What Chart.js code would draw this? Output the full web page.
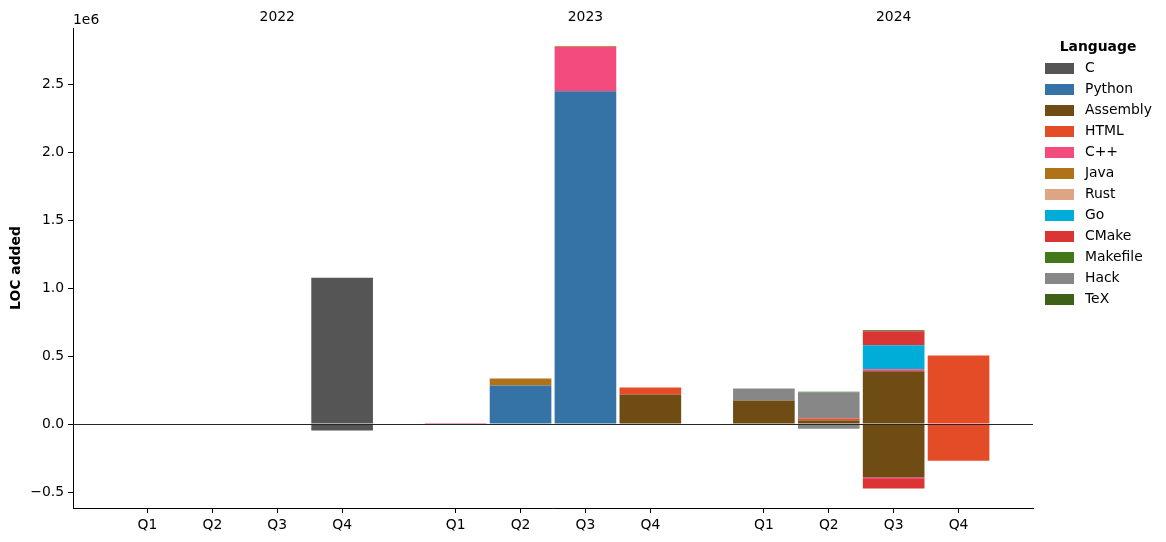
<!DOCTYPE html>
<html><head><meta charset="utf-8">
<script src="https://cdn.jsdelivr.net/npm/chart.js@4"></script>
<style>html,body{margin:0;padding:0;background:#fff}</style>
</head><body>
<canvas id="c" width="1166" height="542"></canvas>
<script>
// ---- data ----
const years = ['2022', '2023', '2024'];
const quarterLabels = ['Q1','Q2','Q3','Q4','Q1','Q2','Q3','Q4','Q1','Q2','Q3','Q4'];
const xPositions = [0, 1, 2, 3, 4.75, 5.75, 6.75, 7.75, 9.5, 10.5, 11.5, 12.5];
const yTicks = [-500000, 0, 500000, 1000000, 1500000, 2000000, 2500000];
const languages = ['C','Python','Assembly','HTML','C++','Java','Rust','Go','CMake','Makefile','Hack','TeX'];
const languageColors = ['#555555','#3572A5','#6E4C13','#E34C26','#F34B7D','#B07219','#DEA584','#00ADD8','#DA3434','#427819','#878787','#3D6117'];

//                 2022 Q1..Q4            2023 Q1..Q4                    2024 Q1..Q4
const C_pos        = [0, 0, 0, 1076000,   0, 0, 0, 0,                    0, 0, 0, 0];
const C_neg        = [0, 0, 0, -47000,    0, 0, 0, 0,                    0, 0, 0, 0];
const Python_pos   = [0, 0, 0, 0,         0, 283000, 2446000, 0,         0, 0, 0, 0];
const Python_neg   = [0, 0, 0, 0,         0, 0, 0, 0,                    0, 0, 0, 0];
const Assembly_pos = [0, 0, 0, 0,         0, 0, 0, 217000,               173000, 26000, 388000, 0];
const Assembly_neg = [0, 0, 0, 0,         0, 0, 0, 0,                    0, 0, -394000, 0];
const HTML_pos     = [0, 0, 0, 0,         0, 0, 0, 51000,                0, 15000, 0, 504000];
const HTML_neg     = [0, 0, 0, 0,         0, 0, 0, 0,                    0, 0, 0, -270000];
const Cpp_pos      = [0, 0, 0, 0,         8000, 0, 326000, 0,            0, 0, 15000, 0];
const Cpp_neg      = [0, 0, 0, 0,         0, 0, 0, 0,                    0, 0, -10000, 0];
const Java_pos     = [0, 0, 0, 0,         0, 52000, 5000, 0,             0, 0, 0, 0];
const Java_neg     = [0, 0, 0, 0,         0, 0, 0, 0,                    0, 0, 0, 0];
const Rust_pos     = [0, 0, 0, 0,         0, 0, 0, 0,                    0, 0, 0, 0];
const Rust_neg     = [0, 0, 0, 0,         0, 0, 0, 0,                    0, 0, 0, 0];
const Go_pos       = [0, 0, 0, 0,         0, 0, 0, 0,                    0, 0, 176000, 0];
const Go_neg       = [0, 0, 0, 0,         0, 0, 0, 0,                    0, 0, 0, 0];
const CMake_pos    = [0, 0, 0, 0,         0, 0, 0, 0,                    0, 0, 103000, 0];
const CMake_neg    = [0, 0, 0, 0,         0, 0, 0, 0,                    0, 0, -70000, 0];
const Makefile_pos = [0, 0, 0, 0,         0, 0, 0, 0,                    0, 0, 0, 0];
const Makefile_neg = [0, 0, 0, 0,         0, 0, 0, 0,                    0, 0, 0, 0];
const Hack_pos     = [0, 0, 0, 0,         0, 0, 0, 0,                    88000, 190000, 0, 0];
const Hack_neg     = [0, 0, 0, 0,         0, 0, 0, 0,                    0, -35000, 0, 0];
const TeX_pos      = [0, 0, 0, 0,         0, 0, 0, 0,                    0, 7000, 7000, 0];
const TeX_neg      = [0, 0, 0, 0,         0, 0, 0, 0,                    0, 0, 0, 0];

const seriesPos = [C_pos, Python_pos, Assembly_pos, HTML_pos, Cpp_pos, Java_pos, Rust_pos, Go_pos, CMake_pos, Makefile_pos, Hack_pos, TeX_pos];
const seriesNeg = [C_neg, Python_neg, Assembly_neg, HTML_neg, Cpp_neg, Java_neg, Rust_neg, Go_neg, CMake_neg, Makefile_neg, Hack_neg, TeX_neg];

// ---- build datasets ----
function toPoints(arr) {
  const pts = [];
  arr.forEach((v, i) => { if (v !== 0) pts.push({x: xPositions[i], y: v}); });
  return pts;
}
const datasets = [];
languages.forEach((lang, i) => {
  datasets.push({label: lang, data: toPoints(seriesPos[i]), backgroundColor: languageColors[i], borderWidth: 0, stack: 's'});
  datasets.push({label: lang + ' (neg)', data: toPoints(seriesNeg[i]), backgroundColor: languageColors[i], borderWidth: 0, stack: 's'});
});

const FONT = 'DejaVu Sans';
const FS = 13.9;

const overlay = {
  id: 'overlay',
  afterDatasetsDraw(chart) {
    const {ctx, chartArea, scales} = chart;
    const y0 = Math.round(scales.y.getPixelForValue(0)) + 0.5;
    ctx.save();
    ctx.strokeStyle = '#262626';
    ctx.lineWidth = 1;
    ctx.beginPath();
    ctx.moveTo(chartArea.left, y0);
    ctx.lineTo(chartArea.right, y0);
    ctx.stroke();
    ctx.restore();
  },
  afterDraw(chart) {
    const {ctx, chartArea, scales} = chart;
    ctx.save();
    ctx.fillStyle = '#000';
    // year labels
    ctx.font = FS + 'px "' + FONT + '"';
    ctx.textAlign = 'center';
    ctx.textBaseline = 'middle';
    years.forEach((yr, g) => {
      const x = scales.x.getPixelForValue(xPositions[g * 4 + 2]);
      ctx.fillText(yr, x, 17);
    });
    // offset text
    ctx.textAlign = 'left';
    ctx.fillText('1e6', chartArea.left, 20);
    // y title
    ctx.save();
    ctx.font = 'bold ' + FS + 'px "' + FONT + '"';
    ctx.translate(16, (chartArea.top + chartArea.bottom) / 2);
    ctx.rotate(-Math.PI / 2);
    ctx.textAlign = 'center';
    ctx.fillText('LOC added', 0, 0);
    ctx.restore();
    // legend
    ctx.font = 'bold ' + FS + 'px "' + FONT + '"';
    ctx.textAlign = 'center';
    ctx.fillText('Language', 1098, 47.5);
    ctx.font = FS + 'px "' + FONT + '"';
    ctx.textAlign = 'left';
    languages.forEach((lang, i) => {
      const cy = 68.5 + i * 21;
      ctx.fillStyle = languageColors[i];
      ctx.fillRect(1045, cy - 5.5, 29, 11);
      ctx.fillStyle = '#000';
      ctx.fillText(lang, 1085, cy);
    });
    ctx.restore();
  }
};

new Chart(document.getElementById('c'), {
  type: 'bar',
  data: {datasets},
  plugins: [overlay],
  options: {
    responsive: false,
    animation: false,
    devicePixelRatio: 1,
    layout: {padding: {top: 28, right: 133, bottom: 0, left: 0}},
    barPercentage: 0.95,
    categoryPercentage: 1.0,
    plugins: {legend: {display: false}, tooltip: {enabled: false}},
    scales: {
      x: {
        type: 'linear',
        stacked: true,
        offset: false,
        min: -1.1475,
        max: 13.6475,
        afterBuildTicks(scale) { scale.ticks = xPositions.map(v => ({value: v})); },
        afterFit(scale) { scale.height = 34; },
        ticks: {
          autoSkip: false,
          maxRotation: 0,
          color: '#000',
          padding: 4,
          font: {family: FONT, size: FS},
          callback(value) { const i = xPositions.indexOf(value); return i >= 0 ? quarterLabels[i] : ''; }
        },
        grid: {display: true, drawOnChartArea: false, drawTicks: true, tickLength: 5, color: '#000', offset: false},
        border: {display: true, color: '#000', width: 1}
      },
      y: {
        stacked: true,
        min: -617600,
        max: 2912000,
        afterBuildTicks(scale) { scale.ticks = yTicks.map(v => ({value: v})); },
        afterFit(scale) { scale.width = 73; },
        ticks: {
          color: '#000',
          padding: 4,
          font: {family: FONT, size: FS},
          callback(value) { return (value / 1e6).toFixed(1).replace('-', '\u2212'); }
        },
        grid: {display: true, drawOnChartArea: false, drawTicks: true, tickLength: 5, color: '#000'},
        border: {display: true, color: '#000', width: 1}
      }
    }
  }
});
</script>
</body></html>
